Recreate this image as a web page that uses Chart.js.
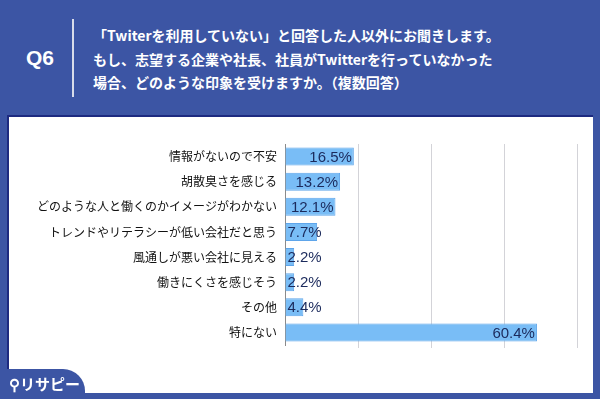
<!DOCTYPE html>
<html>
<head>
<meta charset="utf-8">
<script src="https://cdn.jsdelivr.net/npm/chart.js@4"></script>
<style>
  html, body { margin: 0; padding: 0; }
  body { width: 600px; height: 399px; background: #3c55a4; position: relative; overflow: hidden;
         font-family: "Noto Sans CJK JP", sans-serif; }
  #q { position: absolute; left: 26px; top: 46px; color: #fff; font: bold 21px "Liberation Sans", sans-serif; }
  #divider { position: absolute; left: 72px; top: 19px; width: 2px; height: 78px; background: #d8dcea; }
  #title { position: absolute; left: 93px; top: 24px; color: #fff; font-weight: bold; font-size: 14px;
           line-height: 23.5px; white-space: nowrap; }
  #panel { position: absolute; left: 7px; top: 115px; width: 586px; height: 278px; background: #fff;
           box-shadow: inset 2px 2px 0 #1d2a80; }
  #chart-box { position: absolute; left: 7px; top: 115px; width: 586px; height: 278px; }
  #tab { position: absolute; left: 0; top: 369px; width: 85px; height: 30px; background: #3c55a4;
         border-top-right-radius: 22px; }
  #logo { position: absolute; left: 9px; top: 373px; color: #fff; font-weight: bold; font-size: 15px; }
</style>
</head>
<body>
<div id="q">Q6</div>
<div id="divider"></div>
<div id="title">「Twiterを利用していない」と回答した人以外にお聞きします。<br>もし、志望する企業や社長、社員がTwitterを行っていなかった<br>場合、どのような印象を受けますか。（複数回答）</div>
<div id="panel"></div>
<div id="chart-box"><canvas id="chart" width="586" height="278"></canvas></div>
<div id="tab"></div>
<div id="logo">⚲リサピー</div>
<script>
const categories = [
  '情報がないので不安',
  '胡散臭さを感じる',
  'どのような人と働くのかイメージがわかない',
  'トレンドやリテラシーが低い会社だと思う',
  '風通しが悪い会社に見える',
  '働きにくさを感じそう',
  'その他',
  '特にない'
];
const percentages = [16.5, 13.2, 12.1, 7.7, 2.2, 2.2, 4.4, 60.4];

const valueLabels = {
  id: 'valueLabels',
  afterDatasetsDraw(chart) {
    const ctx = chart.ctx;
    const meta = chart.getDatasetMeta(0);
    ctx.save();
    ctx.font = '15px "Liberation Sans", sans-serif';
    ctx.fillStyle = '#1b2a5c';
    ctx.textBaseline = 'middle';
    ctx.textAlign = 'left';
    meta.data.forEach((bar, i) => {
      const txt = percentages[i].toFixed(1) + '%';
      const w = ctx.measureText(txt).width;
      const x = Math.max(bar.x - 2 - w, bar.base + 2);
      ctx.fillText(txt, x, bar.y + 1);
    });
    ctx.restore();
  }
};

new Chart(document.getElementById('chart'), {
  type: 'bar',
  data: {
    labels: categories,
    datasets: [{
      data: percentages,
      backgroundColor: '#79bdf6',
      borderColor: '#5ea5ea',
      borderWidth: 1,
      barPercentage: 0.72,
      categoryPercentage: 1
    }]
  },
  options: {
    indexAxis: 'y',
    responsive: false,
    animation: false,
    layout: { padding: { top: 29, right: 16, bottom: 45, left: 0 } },
    plugins: { legend: { display: false }, tooltip: { enabled: false } },
    scales: {
      x: {
        min: 0, max: 70,
        afterBuildTicks: s => { s.ticks = [0, 17.5, 35, 52.5, 70].map(v => ({ value: v })); },
        ticks: { display: false },
        grid: {
          color: c => c.index === 0 ? 'rgba(0,0,0,0)' : '#d3d3d8',
          tickLength: 3
        },
        border: { display: false },
        afterFit: s => { s.height = 3; }
      },
      y: {
        ticks: { color: '#111', font: { family: '"Noto Sans CJK JP", sans-serif', size: 12 }, padding: 8 },
        grid: { display: false, drawTicks: false },
        border: { color: '#8a8a8a', width: 1 },
        afterFit: s => { s.width = 278; }
      }
    }
  },
  plugins: [valueLabels]
});
</script>
</body>
</html>
